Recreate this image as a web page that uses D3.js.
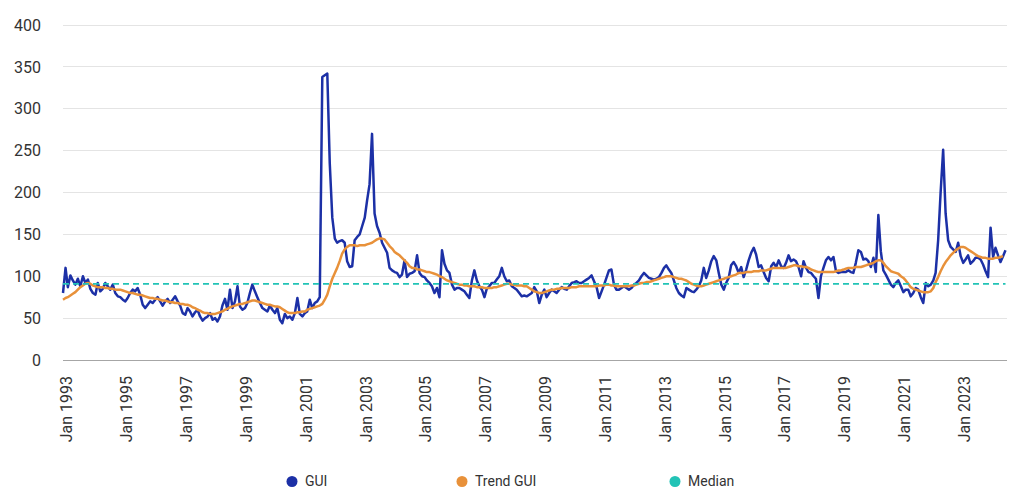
<!DOCTYPE html>
<html><head><meta charset="utf-8">
<script src="https://cdn.jsdelivr.net/npm/d3@7"></script>
<style>
body{margin:0;background:#fff;}
text{font-family:Roboto,"Noto Sans",sans-serif;}
</style></head><body>
<svg id="chart" width="1024" height="496"></svg>
<script>
const startYear = 1993; // monthly data from Jan 1993
const guiValues = [
80,110,87,101,95,90,97,88,100,92,96,85,
80,78,92,82,85,92,88,84,90,80,76,75,
72,70,74,80,84,82,86,78,66,62,66,70,
68,72,75,70,65,70,73,68,72,76,70,65,
56,54,62,58,52,57,60,52,47,50,52,56,
48,50,46,52,65,73,60,84,62,70,88,64,
60,62,68,80,90,82,75,68,62,60,58,65,
60,56,62,48,44,55,50,52,48,56,74,55,
52,56,58,72,62,68,70,75,338,340,342,235,
170,145,140,142,143,140,118,111,112,143,147,150,
160,170,190,210,270,175,160,152,140,134,128,110,
107,105,104,99,102,119,99,103,104,106,125,104,
100,99,95,92,88,80,86,75,131,115,107,104,
90,84,86,86,84,82,78,74,95,107,95,88,
84,75,85,88,92,92,96,100,110,100,94,95,
88,86,84,80,76,77,76,78,80,87,82,68,
78,84,75,80,84,82,80,84,87,85,84,88,
92,93,94,92,92,94,96,98,101,94,87,74,
82,90,98,107,108,90,84,84,86,88,86,84,
86,90,92,95,100,104,101,98,97,96,97,99,
104,110,113,108,104,95,86,80,77,75,86,84,
82,81,84,88,95,110,98,107,118,124,119,104,
90,84,92,98,113,117,112,104,111,99,108,119,
128,134,126,111,113,105,98,94,112,116,111,119,
112,110,116,125,118,120,118,111,100,118,110,105,
104,100,97,74,100,110,119,123,119,123,106,104,
105,105,105,107,105,104,116,131,129,120,121,118,
111,122,105,173,130,107,102,96,90,87,92,95,
88,81,84,84,76,80,86,84,75,68,92,88,
90,95,104,143,200,251,175,143,135,132,129,140,
124,116,120,125,115,118,122,122,120,114,106,99,
158,123,134,125,117,124,131
];
const trendValues = [
72,74,75,77,79,81,84,87,89,91,92,91,
89,88,87,87,87,86,86,85,85,84,84,84,
83,82,81,80,80,79,78,78,77,76,75,74,
74,73,73,72,71,71,70,69,69,68,68,67,
67,66,66,65,63,62,60,59,57,56,56,55,
55,55,56,57,58,60,61,63,64,65,66,67,
67,68,69,70,71,71,70,69,68,67,66,66,
65,64,64,63,61,59,57,56,56,56,57,57,
58,58,60,61,62,63,64,65,67,72,78,88,
97,104,110,118,127,132,135,137,137,137,136,137,
137,137,138,139,140,142,144,145,145,144,140,136,
133,129,127,125,122,119,116,112,110,110,108,108,
107,106,105,105,104,103,102,100,99,97,95,94,
93,92,91,90,90,89,89,88,88,88,87,87,
87,86,86,86,86,87,87,88,89,90,91,91,
90,90,89,89,89,88,88,86,84,82,81,80,
80,81,82,83,84,84,85,85,86,86,86,86,
87,87,87,88,88,88,88,88,88,88,88,89,
89,89,90,90,89,89,88,88,88,88,88,88,
89,89,90,91,92,92,93,93,94,95,96,97,
98,99,100,100,100,99,98,97,97,96,95,93,
91,90,89,88,88,89,90,91,92,93,94,95,
96,97,98,99,100,101,102,104,104,104,105,105,
105,106,106,106,107,107,107,108,109,110,110,110,
110,110,110,111,112,113,113,112,112,111,111,110,
108,107,106,105,105,105,105,105,105,105,106,107,
107,108,109,110,110,110,111,111,111,112,113,114,
115,116,118,119,119,116,112,109,106,105,104,103,
100,98,95,91,87,85,84,83,82,81,81,81,
82,86,93,99,106,112,117,121,125,128,131,133,
135,135,134,132,130,128,126,124,123,122,122,121,
121,121,122,122,123,124
];
const medianValue = 91;
const yTickValues = [0,50,100,150,200,250,300,350,400];
const xTickYears = [1993,1995,1997,1999,2001,2003,2005,2007,2009,2011,2013,2015,2017,2019,2021,2023];
const seriesNames = ["GUI","Trend GUI","Median"];
const seriesColors = ["#1c30a6","#e8913a","#22c3b6"];

const svg = d3.select("#chart");
const start = new Date(Date.UTC(startYear,0,1));
const dates = guiValues.map((_,k)=>d3.utcMonth.offset(start,k));
const x = d3.scaleUtc().domain([dates[0], dates[dates.length-1]]).range([63, 1005.5]);
const y = d3.scaleLinear().domain([0,400]).range([360,25]);

// gridlines
svg.append("g").selectAll("line").data(yTickValues).join("line")
  .attr("x1",63).attr("x2",1007)
  .attr("y1",d=>y(d)).attr("y2",d=>y(d))
  .attr("stroke",d=>d===0?"#a6a6a6":"#e4e4e4").attr("stroke-width",1)
  .attr("shape-rendering","crispEdges");

// y axis
const yAxis = svg.append("g").attr("transform","translate(41,0)")
  .call(d3.axisLeft(y).tickValues(yTickValues).tickSize(0).tickPadding(0));
yAxis.select(".domain").remove();
yAxis.selectAll("text").attr("font-size",16).attr("fill","#333").attr("font-family","Roboto");

// x axis
const xAxis = svg.append("g").attr("transform","translate(0,360)")
  .call(d3.axisBottom(x).tickValues(xTickYears.map(yv=>new Date(Date.UTC(yv,0,1))))
    .tickFormat(d3.utcFormat("Jan %Y")).tickSize(0));
xAxis.select(".domain").remove();
xAxis.selectAll("text")
  .attr("transform","rotate(-90)")
  .attr("text-anchor","end")
  .attr("x",-16).attr("y",0).attr("dy","0.55em")
  .attr("font-size",16).attr("fill","#333").attr("font-family","Roboto");

const line = d3.line().x((d,k)=>x(dates[k])).y(d=>y(d));

svg.append("path").datum(guiValues).attr("d",line)
  .attr("fill","none").attr("stroke",seriesColors[0]).attr("stroke-width",2.5)
  .attr("stroke-linejoin","round");
svg.append("path").datum(trendValues).attr("d",line)
  .attr("fill","none").attr("stroke",seriesColors[1]).attr("stroke-width",2.5)
  .attr("stroke-linejoin","round");
svg.append("line")
  .attr("x1",x(dates[0])).attr("x2",x(dates[dates.length-1]))
  .attr("y1",y(medianValue)).attr("y2",y(medianValue))
  .attr("stroke",seriesColors[2]).attr("stroke-width",1.8).attr("stroke-dasharray","6,4");

// legend
const legendX = [292,462,675];
const lg = svg.append("g").selectAll("g").data(seriesNames).join("g")
  .attr("transform",(d,k)=>`translate(${legendX[k]},481.5)`);
lg.append("circle").attr("r",5.5).attr("fill",(d,k)=>seriesColors[k]);
lg.append("text").attr("x",13).attr("dy","0.35em").attr("font-size",14)
  .attr("fill","#333").text(d=>d);
</script>
</body></html>
